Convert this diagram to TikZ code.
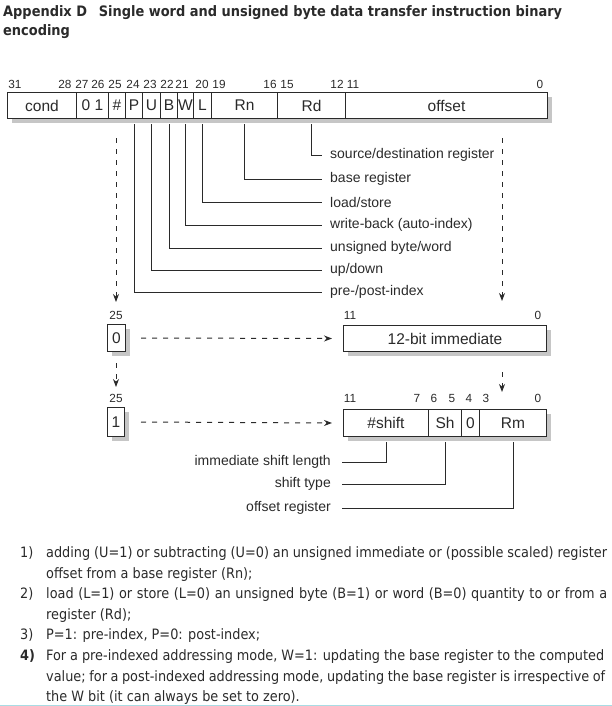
\documentclass[tikz,border=0pt]{standalone}
\usepackage{fontspec}
\setmainfont{Liberation Sans}
\newfontfamily\notefont{DejaVu Sans Condensed}[BoldFont={DejaVu Sans Condensed Bold}]
\usetikzlibrary{arrows.meta}
\definecolor{ink}{HTML}{2A2A2A}
\definecolor{shade}{HTML}{C6C6C6}
\definecolor{edgec}{HTML}{A8DCE4}
\begin{document}
\begin{tikzpicture}[x=1pt,y=-1pt,
  fld/.style={draw=ink, line width=1pt, fill=white, anchor=north west, inner sep=0pt, font=\fontsize{15.5}{18}\selectfont, text=ink},
  bitn/.style={font=\fontsize{11.8}{13}\selectfont, inner sep=0pt, text=ink},
  lbl/.style={font=\fontsize{14}{16}\selectfont, inner xsep=8pt, inner ysep=0pt, anchor=west, text=ink},
  rlbl/.style={font=\fontsize{14}{16}\selectfont, inner xsep=11pt, inner ysep=0pt, anchor=east, text=ink},
  conn/.style={draw=ink, line width=1pt},
  darr/.style={draw=ink, line width=1pt, dash pattern=on 5pt off 6pt, -{Stealth[length=8pt,width=6pt]}},
  shd/.style={fill=shade},
  note/.style={font=\notefont\fontsize{14.3}{16}\selectfont, anchor=base west, inner sep=0pt, text=ink},
  ttl/.style={font=\notefont\bfseries\fontsize{14.4}{16}\selectfont, anchor=base west, inner sep=0pt, text=ink}
]
\useasboundingbox (0,0) rectangle (612,706);

% title
\node[ttl] (t1) at (3,17) {Appendix D\hspace{0.5em} Single word and unsigned byte data transfer instruction binary};
\node[ttl] (t2) at (3,36) {encoding};

% bit numbers, main word
\node[bitn] (n31) at (15,84) {31};
\node[bitn] (n28) at (65,84) {28};
\node[bitn] (n27) at (82,84) {27};
\node[bitn] (n26) at (98,84) {26};
\node[bitn] (n25) at (115,84) {25};
\node[bitn] (n24) at (133,84) {24};
\node[bitn] (n23) at (150,84) {23};
\node[bitn] (n22) at (167,84) {22};
\node[bitn] (n21) at (182,84) {21};
\node[bitn] (n20) at (202,84) {20};
\node[bitn] (n19) at (219,84) {19};
\node[bitn] (n16) at (270,84) {16};
\node[bitn] (n15) at (287,84) {15};
\node[bitn] (n12) at (337,84) {12};
\node[bitn] (n11) at (353,84) {11};
\node[bitn] (n0) at (540,84) {0};

% main word
\fill[shd] (12,97) rectangle (552,123);
\node[fld, minimum width=69pt, minimum height=26pt] (cond) at (7,92) {cond};
\node[fld, minimum width=32pt, minimum height=26pt] (zo) at (76,92) {0 1};
\node[fld, minimum width=17pt, minimum height=26pt] (hash) at (108,92) {\#};
\node[fld, minimum width=17pt, minimum height=26pt] (P) at (125,92) {P};
\node[fld, minimum width=18pt, minimum height=26pt] (U) at (142,92) {U};
\node[fld, minimum width=17pt, minimum height=26pt] (B) at (160,92) {B};
\node[fld, minimum width=16pt, minimum height=26pt] (W) at (177,92) {W};
\node[fld, minimum width=18pt, minimum height=26pt] (L) at (193,92) {L};
\node[fld, minimum width=66pt, minimum height=26pt] (Rn) at (211,92) {Rn};
\node[fld, minimum width=68pt, minimum height=26pt] (Rd) at (277,92) {Rd};
\node[fld, minimum width=202pt, minimum height=26pt] (off) at (345,92) {offset};

% field labels
\node[lbl] (lRd) at (322,155) {source/destination register};
\node[lbl] (lRn) at (322,179) {base register};
\node[lbl] (lL) at (322,202) {load/store};
\node[lbl] (lW) at (322,225) {write-back (auto-index)};
\node[lbl] (lB) at (322,248) {unsigned byte/word};
\node[lbl] (lU) at (322,270) {up/down};
\node[lbl] (lP) at (322,292) {pre-/post-index};

\draw[conn] ([yshift=-5pt]Rd.south) |- (lRd.west);
\draw[conn] ([yshift=-5pt]Rn.south) |- (lRn.west);
\draw[conn] ([yshift=-5pt]L.south) |- (lL.west);
\draw[conn] ([yshift=-5pt]W.south) |- (lW.west);
\draw[conn] ([yshift=-5pt]B.south) |- (lB.west);
\draw[conn] ([yshift=-5pt]U.south) |- (lU.west);
\draw[conn] ([yshift=-5pt]P.south) |- (lP.west);

% dashed arrows from the main word
\coordinate (dLs) at (116,138);
\coordinate (dLe) at (116,302);
\coordinate (dRs) at (502,138);
\coordinate (dRe) at (502,301);
\draw[darr] (dLs) -- (dLe);
\draw[darr] (dRs) -- (dRe);

% immediate form
\node[bitn] (m25) at (116,315) {25};
\node[bitn] (m11) at (350,315) {11};
\node[bitn] (m0) at (538,315) {0};
\fill[shd] (112,329) rectangle (130,356);
\fill[shd] (348,330) rectangle (551,356);
\node[fld, minimum width=18pt, minimum height=27pt] (zero) at (107,324) {0};
\node[fld, minimum width=203pt, minimum height=26pt] (imm) at (343,325) {12-bit immediate};
\draw[darr] ([xshift=15pt]zero.east) -- ([xshift=-11pt]imm.west);

\coordinate (dZs) at (116,363);
\coordinate (dZe) at (116,387);
\coordinate (dIs) at (502,372);
\coordinate (dIe) at (502,392);
\draw[darr] (dZs) -- (dZe);
\draw[darr] (dIs) -- (dIe);

% register form
\node[bitn] (r25) at (116,398) {25};
\node[bitn] (r11) at (350,398) {11};
\node[bitn] (r7) at (417,398) {7};
\node[bitn] (r6) at (434,398) {6};
\node[bitn] (r5) at (452,398) {5};
\node[bitn] (r4) at (469,398) {4};
\node[bitn] (r3) at (486,398) {3};
\node[bitn] (r0) at (538,398) {0};
\fill[shd] (112,412) rectangle (129,441);
\fill[shd] (348,414) rectangle (551,441);
\node[fld, minimum width=17pt, minimum height=29pt] (one) at (107,407) {1};
\node[fld, minimum width=85pt, minimum height=27pt] (shf) at (343,409) {\#shift};
\node[fld, minimum width=33pt, minimum height=27pt] (sh) at (428,409) {Sh};
\node[fld, minimum width=18pt, minimum height=27pt] (zb) at (461,409) {0};
\node[fld, minimum width=67pt, minimum height=27pt] (rm) at (479,409) {Rm};
\draw[darr] ([xshift=16pt]one.east) -- ([xshift=-11pt]shf.west);

\node[rlbl] (lImm) at (342,462) {immediate shift length};
\node[rlbl] (lSh) at (342,484) {shift type};
\node[rlbl] (lRm) at (342,508) {offset register};
\draw[conn] ([yshift=-5pt]shf.south) |- (lImm.east);
\draw[conn] ([yshift=-5pt]sh.south) |- (lSh.east);
\draw[conn] ([yshift=-5pt]rm.south) |- (lRm.east);

% notes
\node[note] (k1) at (20,557.5) {1)};
\node[note] (k1a) at (46,557.5) {\makebox[561pt][s]{adding (U=1) or subtracting (U=0) an unsigned immediate or (possible scaled) register}};
\node[note] (k1b) at (46,578.1) {offset from a base register (Rn);};
\node[note] (k2) at (20,598.7) {2)};
\node[note] (k2a) at (46,598.7) {\makebox[561pt][s]{load (L=1) or store (L=0) an unsigned byte (B=1) or word (B=0) quantity to or from a}};
\node[note] (k2b) at (46,619.3) {register (Rd);};
\node[note] (k3) at (20,639.9) {3)};
\node[note] (k3a) at (46,639.9) {P=1: pre-index, P=0: post-index;};
\node[note] (k4) at (20,660.5) {\textbf{4)}};
\node[note] (k4a) at (46,660.5) {\makebox[558pt][s]{For a pre-indexed addressing mode, W=1: updating the base register to the computed}};
\node[note] (k4b) at (46,681.1) {\makebox[559pt][s]{value; for a post-indexed addressing mode, updating the base register is irrespective of}};
\node[note] (k4c) at (46,701.7) {the W bit (it can always be set to zero).};

\fill[edgec] (0,704.5) rectangle (612,706);
\end{tikzpicture}
\end{document}
